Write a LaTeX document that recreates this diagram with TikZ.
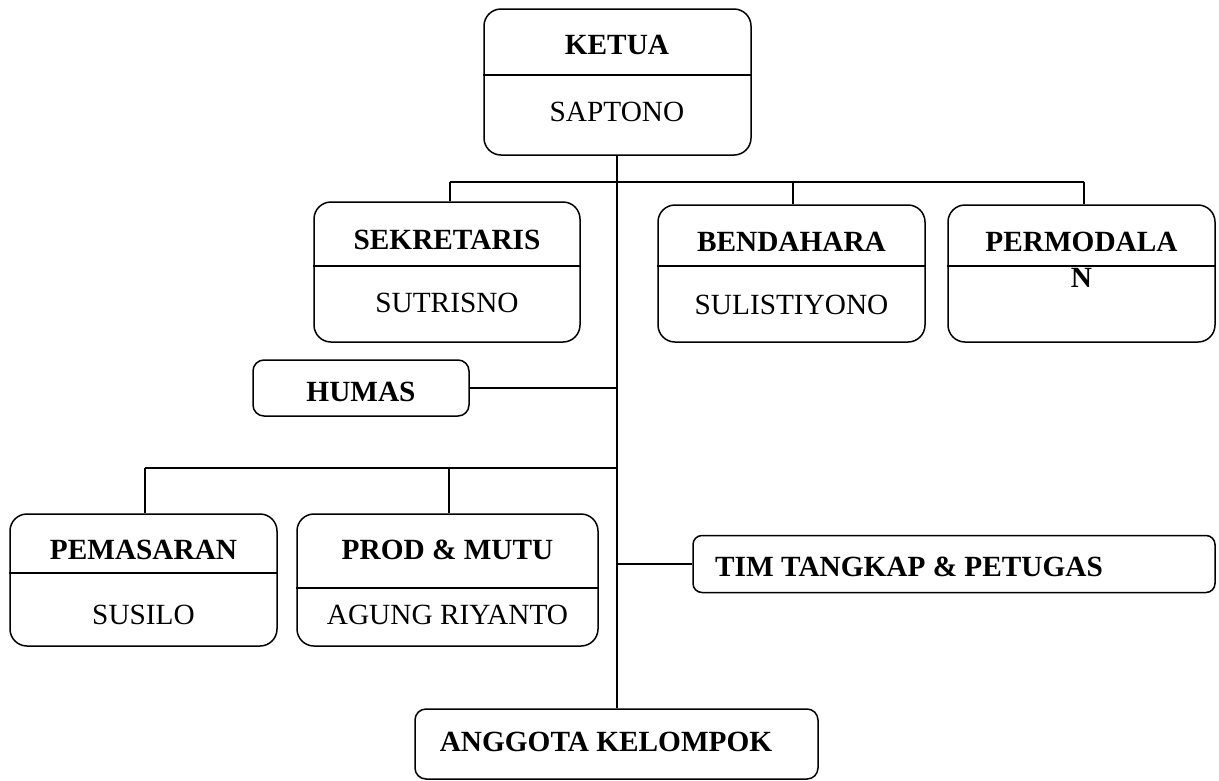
\documentclass[tikz,border=0pt]{standalone}
\usepackage{fontspec}
\setmainfont{Liberation Serif}
\begin{document}
\begin{tikzpicture}[x=1pt,y=-1pt,
  box/.style={draw,line width=1.5pt,rectangle,inner sep=0pt,minimum width=#1},
  bigbox/.style={box=267pt,rounded corners=17pt},
  conn/.style={line width=1.5pt},
  div/.style={line width=1.5pt},
  lbl/.style={inner sep=0pt,font=\fontsize{29.3}{34}\selectfont\bfseries},
  nm/.style={inner sep=0pt,font=\fontsize{29.3}{34}\selectfont}]
\useasboundingbox (0,0) rectangle (1219,780);

% boxes
\node[bigbox,minimum height=146pt] (ketua) at (617.5,82) {};
\node[bigbox,box=266pt,minimum height=140pt] (sek) at (447,272) {};
\node[bigbox,minimum height=137pt] (ben) at (791.5,273.5) {};
\node[bigbox,minimum height=137pt] (perm) at (1081.5,273.5) {};
\node[box=216pt,minimum height=56pt,rounded corners=11pt] (humas) at (361,388) {};
\node[bigbox,minimum height=132pt] (pem) at (143.5,580) {};
\node[bigbox,box=301pt,minimum height=132pt] (prod) at (447.5,580) {};
\node[box=522pt,minimum height=57pt,rounded corners=9pt] (tim) at (954,564) {};
\node[box=403pt,minimum height=70pt,rounded corners=11pt] (angg) at (616.5,744) {};

% dividers
\draw[div] (ketua.west |- 0,75) -- (ketua.east |- 0,75);
\draw[div] (sek.west |- 0,266) -- (sek.east |- 0,266);
\draw[div] (ben.west |- 0,266) -- (ben.east |- 0,266);
\draw[div] (perm.west |- 0,266) -- (perm.east |- 0,266);
\draw[div] (pem.west |- 0,573) -- (pem.east |- 0,573);
\draw[div] (prod.west |- 0,588) -- (prod.east |- 0,588);

% texts
\node[lbl] (tketua) at (617,45) {KETUA};
\node[nm] (nketua) at (617,112) {SAPTONO};
\node[lbl] (tsek) at (447,240) {SEKRETARIS};
\node[nm] (nsek) at (447,303) {SUTRISNO};
\node[lbl] (tben) at (791.5,242) {BENDAHARA};
\node[nm] (nben) at (791.5,305) {SULISTIYONO};
\node[lbl] (tperm) at (1081.5,242) {PERMODALA};
\node[lbl] (tperm2) at (1081.5,278) {N};
\node[lbl] (thumas) at (361,392) {HUMAS};
\node[lbl] (tpem) at (143.5,550) {PEMASARAN};
\node[nm] (npem) at (143.5,615) {SUSILO};
\node[lbl] (tprod) at (447.5,550) {PROD \& MUTU};
\node[nm] (nprod) at (447.5,615) {AGUNG RIYANTO};
\node[lbl,anchor=west] (ttim) at (715,567) {TIM TANGKAP \& PETUGAS};
\node[lbl] (tangg) at (606,742) {ANGGOTA KELOMPOK};

% connectors
\coordinate (top) at (617,182);
\coordinate (jsek) at (450,182);
\coordinate (jben) at (793,182);
\coordinate (jperm) at (1084,182);
\coordinate (low) at (617,468);
\coordinate (jpem) at (145,468);
\coordinate (jprod) at (449,468);
\draw[conn] (ketua.south -| top) -- (angg.north -| top);
\draw[conn] (jsek) -- (jperm);
\draw[conn] (jsek) -- (jsek |- sek.north);
\draw[conn] (jben) -- (jben |- ben.north);
\draw[conn] (jperm) -- (jperm |- perm.north);
\draw[conn] (humas.east) -- (humas.east -| top);
\draw[conn] (jpem) -- (low);
\draw[conn] (jpem) -- (jpem |- pem.north);
\draw[conn] (jprod) -- (jprod |- prod.north);
\draw[conn] (tim.west) -- (tim.west -| top);
\end{tikzpicture}
\end{document}
